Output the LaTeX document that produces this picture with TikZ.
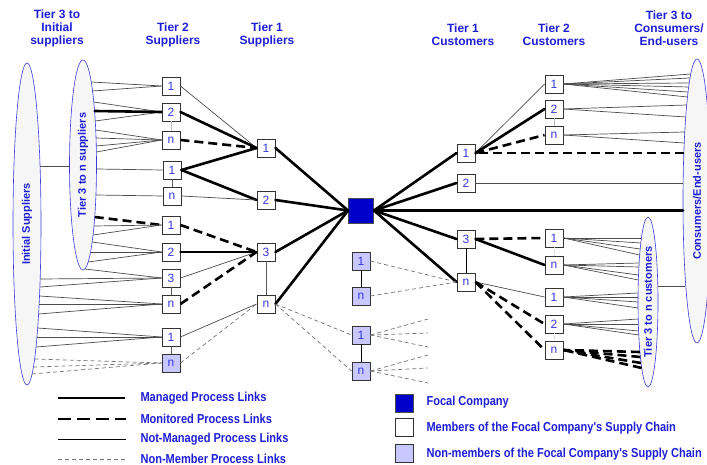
\documentclass[tikz,border=0pt]{standalone}
\usepackage{fontspec}
\setmainfont{Liberation Sans}
\newfontfamily\narrowfont[FakeStretch=0.85]{Liberation Sans}
\usetikzlibrary{shapes.geometric}

\definecolor{hdblue}{RGB}{30,30,215}
\definecolor{lblblue}{RGB}{55,55,225}
\definecolor{focalblue}{RGB}{0,0,200}
\definecolor{nonmem}{RGB}{200,200,255}
\definecolor{crowdfill}{RGB}{246,246,246}
\definecolor{crowdline}{RGB}{60,60,220}

% lines from a box anchor to points on the rim of an ellipse
% #1 style, #2 target, #3 cx, #4 cy, #5 signed x radius, #6 y radius, #7 list of y values
\newcommand\rimfan[7]{%
  \foreach \yy in {#7} {%
    \pgfmathsetmacro\xx{#3+#5*sqrt(1-((\yy-#4)/#6)^2)}%
    \coordinate (rim) at (\xx,\yy);
    \draw[#1] (rim) -- (#2);
  }}

\begin{document}
\begin{tikzpicture}[x=1pt,y=-1pt,
  member/.style={draw=black!80, fill=white, line width=0.9pt, minimum size=18pt,
    inner sep=0pt, font=\fontsize{12}{12}\selectfont, text=lblblue},
  nonmember/.style={member, fill=nonmem},
  focalbox/.style={draw=black!70, fill=focalblue, line width=0.9pt, minimum size=25pt, inner sep=0pt},
  managed/.style={line width=2.6pt, line cap=round},
  monitored/.style={line width=2.6pt, dash pattern=on 9pt off 5pt},
  notmanaged/.style={line width=0.7pt, black!70},
  nonmemberlink/.style={line width=0.7pt, black!55, dash pattern=on 4pt off 3pt},
  tie/.style={line width=0.7pt, black!65},
  faint/.style={line width=0.5pt, black!25},
  heading/.style={font=\bfseries\fontsize{12}{13}\selectfont, text=hdblue, align=center},
  crowd/.style={ellipse, draw=crowdline, fill=crowdfill, line width=0.6pt, inner sep=0pt,
    outer sep=0pt, rotate=90, font=\bfseries\fontsize{11}{11}\selectfont, text=hdblue},
  legendtext/.style={anchor=west, font=\narrowfont\bfseries\fontsize{13}{13}\selectfont, text=hdblue}
]
\useasboundingbox (0,0) rectangle (707,465);

% ---------- groups drawn as ellipses ----------
\node[crowd, minimum width=322pt, minimum height=28pt] (initial) at (27,224) {Initial Suppliers};
\node[crowd, minimum width=210pt, minimum height=27pt] (tier3s) at (83,165) {Tier 3 to n suppliers};
\node[crowd, minimum width=284pt, minimum height=28pt] (consumers) at (697,201) {Consumers/End-users};
\node[crowd, minimum width=170pt, minimum height=20pt] (tier3c) at (648,302) {Tier 3 to n customers};

\coordinate (initE) at (40,166);
\coordinate (tier3sW) at (69.5,166);
\draw[notmanaged] (initE) -- (tier3sW);
\coordinate (tier3cE) at (657.8,286);
\coordinate (consW) at (685,286);
\draw[notmanaged] (tier3cE) -- (consW);

% ---------- column headings ----------
\node[heading] (hd1) at (57,28) {Tier 3 to\\Initial\\suppliers};
\node[heading] (hd2) at (173,35) {Tier 2\\Suppliers};
\node[heading] (hd3) at (267,35) {Tier 1\\Suppliers};
\node[heading] (hd4) at (463,35) {Tier 1\\Customers};
\node[heading] (hd5) at (554,35) {Tier 2\\Customers};
\node[heading] (hd6) at (669,28) {Tier 3 to\\Consumers/\\End-users};

% ---------- tier 2 suppliers ----------
\node[member] (s2a) at (171,86) {1};
\node[member] (s2b) at (171,112) {2};
\node[member] (s2c) at (171,140) {n};
\node[member] (s2d) at (172,170) {1};
\node[member] (s2e) at (172,196) {n};
\node[member] (s2f) at (171,225) {1};
\node[member] (s2g) at (171,252) {2};
\node[member] (s2h) at (171,278) {3};
\node[member] (s2i) at (171,304) {n};
\node[member] (s2j) at (171,337) {1};
\node[nonmember] (s2k) at (171,363) {n};

% ---------- tier 1 suppliers ----------
\node[member] (s1a) at (266,148) {1};
\node[member] (s1b) at (266,200) {2};
\node[member] (s1c) at (266,252) {3};
\node[member] (s1d) at (266,304) {n};

% ---------- focal company and outsiders ----------
\node[focalbox] (focal) at (361,210.5) {};
\node[nonmember] (m1) at (361,261) {1};
\node[nonmember] (m2) at (361,296) {n};
\node[nonmember] (m3) at (361,335) {1};
\node[nonmember] (m4) at (361,371) {n};

% ---------- tier 1 customers ----------
\node[member] (c1a) at (466,153) {1};
\node[member] (c1b) at (466,183) {2};
\node[member] (c1c) at (466,239) {3};
\node[member] (c1d) at (466,282) {n};

% ---------- tier 2 customers ----------
\node[member] (c2a) at (554,84) {1};
\node[member] (c2b) at (554,109) {2};
\node[member] (c2c) at (554,135) {n};
\node[member] (c2d) at (554,238) {1};
\node[member] (c2e) at (554,265) {n};
\node[member] (c2f) at (554,297) {1};
\node[member] (c2g) at (554,324) {2};
\node[member] (c2h) at (554,350) {n};

% ---------- ties between boxes of one column ----------
\draw[faint] (s2b.south) -- (s2c.north);
\draw[tie] (s2d.south) -- (s2e.north);
\draw[tie] (s2h.south) -- (s2i.north);
\draw[tie] (s2j.south) -- (s2k.north);
\draw[tie] (s1c.south) -- (s1d.north);
\draw[tie, black] (m1.south) -- (m2.north);
\draw[tie, black] (m3.south) -- (m4.north);
\draw[tie, black] (c1c.south) -- (c1d.north);
\draw[faint] (c2b.south) -- (c2c.north);
\draw[faint, dotted] (c2d.south) -- (c2e.north);
\draw[faint, dotted] (c2g.south) -- (c2h.north);

% ---------- upstream fans ----------
\rimfan{notmanaged}{s2a.west}{83}{165}{13.5}{105}{82,91}
\rimfan{notmanaged}{s2b.west}{83}{165}{13.5}{105}{102,121}
\rimfan{managed}{s2b.west}{83}{165}{13.5}{105}{111}
\rimfan{notmanaged}{s2c.west}{83}{165}{13.5}{105}{130,138,146,152}
\rimfan{notmanaged}{s2d.west}{83}{165}{13.5}{105}{169}
\rimfan{notmanaged}{s2e.west}{83}{165}{13.5}{105}{195}
\rimfan{monitored}{s2f.west}{83}{165}{13.5}{105}{217}
\rimfan{notmanaged}{s2f.west}{83}{165}{13.5}{105}{226,235}
\rimfan{notmanaged}{s2g.west}{83}{165}{13.5}{105}{242,252,262}
\rimfan{notmanaged}{s2h.west}{83}{165}{13.5}{105}{269}
\rimfan{notmanaged}{s2h.west}{27}{224}{14}{161}{279,287}
\rimfan{notmanaged}{s2i.west}{27}{224}{14}{161}{296,304,314}
\rimfan{notmanaged}{s2j.west}{27}{224}{14}{161}{328,337,347}
\rimfan{nonmemberlink}{s2k.west}{27}{224}{14}{161}{359,367,374}

% ---------- tier 2 to tier 1 suppliers ----------
\draw[notmanaged] (s2a.east) -- (s1a.west);
\draw[managed] (s2b.east) -- (s1a.west);
\draw[monitored] (s2c.east) -- (s1a.west);
\draw[managed] (s2d.east) -- (s1a.west);
\draw[managed] (s2d.east) -- (s1b.west);
\draw[notmanaged] (s2e.east) -- (s1b.west);
\draw[monitored] (s2f.east) -- (s1c.west);
\draw[managed] (s2g.east) -- (s1c.west);
\draw[notmanaged] (s2h.east) -- (s1c.west);
\draw[monitored] (s2i.east) -- (s1c.west);
\draw[notmanaged] (s2j.east) -- (s1d.west);
\draw[nonmemberlink] (s2k.east) -- (s1d.west);

% ---------- focal company links ----------
\foreach \n in {s1a,s1b,s1c,s1d} \draw[managed] (\n.east) -- (focal.west);
\foreach \n in {c1a,c1b,c1c,c1d} \draw[managed] (focal.east) -- (\n.west);
\rimfan{managed}{focal.east}{697}{201}{-14}{142}{210.5}

% ---------- outsiders ----------
\draw[nonmemberlink] (m1.east) -- (c1d.west);
\draw[nonmemberlink] (m2.east) -- (c1d.west);
\draw[nonmemberlink] (s1d.east) -- (m3.west);
\draw[nonmemberlink] (s1d.east) -- (m4.west);
\foreach \yy [count=\i] in {319,333,347} {
  \coordinate (o3\i) at (428,\yy);
  \draw[nonmemberlink] (m3.east) -- (o3\i);
}
\foreach \yy [count=\i] in {355,368,383} {
  \coordinate (o4\i) at (428,\yy);
  \draw[nonmemberlink] (m4.east) -- (o4\i);
}

% ---------- tier 1 to tier 2 customers ----------
\draw[notmanaged] (c1a.east) -- (c2a.west);
\draw[managed] (c1a.east) -- (c2b.west);
\draw[monitored] (c1a.east) -- (c2c.west);
\draw[monitored] (c1c.east) -- (c2d.west);
\draw[managed] (c1c.east) -- (c2e.west);
\draw[notmanaged] (c1d.east) -- (c2f.west);
\draw[monitored] (c1d.east) -- (c2g.west);
\draw[monitored] (c1d.east) -- (c2h.west);

% ---------- downstream fans ----------
\rimfan{monitored}{c1a.east}{697}{201}{-14}{142}{153}
\rimfan{notmanaged}{c1b.east}{697}{201}{-14}{142}{183}
\rimfan{notmanaged}{c2a.east}{697}{201}{-14}{142}{74,78,83,87,92,97}
\rimfan{notmanaged}{c2b.east}{697}{201}{-14}{142}{105,117}
\rimfan{notmanaged}{c2c.east}{697}{201}{-14}{142}{132,143}
\rimfan{notmanaged}{c2d.east}{648}{302}{-10}{85}{238,243,249,255}
\rimfan{notmanaged}{c2e.east}{648}{302}{-10}{85}{263,267,275,280}
\rimfan{notmanaged}{c2f.east}{648}{302}{-10}{85}{293,297,302,308}
\rimfan{notmanaged}{c2g.east}{648}{302}{-10}{85}{319,324,331,335}
\rimfan{monitored}{c2h.east}{648}{302}{-10}{85}{352,357,363,368}

% ---------- legend ----------
\coordinate (lg1a) at (58,398);  \coordinate (lg1b) at (125,398);
\coordinate (lg2a) at (58,419);  \coordinate (lg2b) at (126,419);
\coordinate (lg3a) at (58,439);  \coordinate (lg3b) at (126,439);
\coordinate (lg4a) at (58,459);  \coordinate (lg4b) at (126,459);
\draw[line width=2.6pt] (lg1a) -- (lg1b);
\draw[line width=2.6pt, dash pattern=on 13pt off 6pt] (lg2a) -- (lg2b);
\draw[notmanaged, black] (lg3a) -- (lg3b);
\draw[nonmemberlink] (lg4a) -- (lg4b);
\node[legendtext] (lt1) at (137,398) {Managed Process Links};
\node[legendtext] (lt2) at (137,419) {Monitored Process Links};
\node[legendtext] (lt3) at (137,439) {Not-Managed Process Links};
\node[legendtext] (lt4) at (137,459) {Non-Member Process Links};

\node[focalbox, minimum size=18pt] (lb1) at (404,403) {};
\node[member] (lb2) at (404,427.5) {};
\node[nonmember] (lb3) at (404,453) {};
\node[legendtext] (lbt1) at (423,402) {Focal Company};
\node[legendtext] (lbt2) at (423,428) {Members of the Focal Company's Supply Chain};
\node[legendtext] (lbt3) at (423,454) {Non-members of the Focal Company's Supply Chain};
\end{tikzpicture}
\end{document}
